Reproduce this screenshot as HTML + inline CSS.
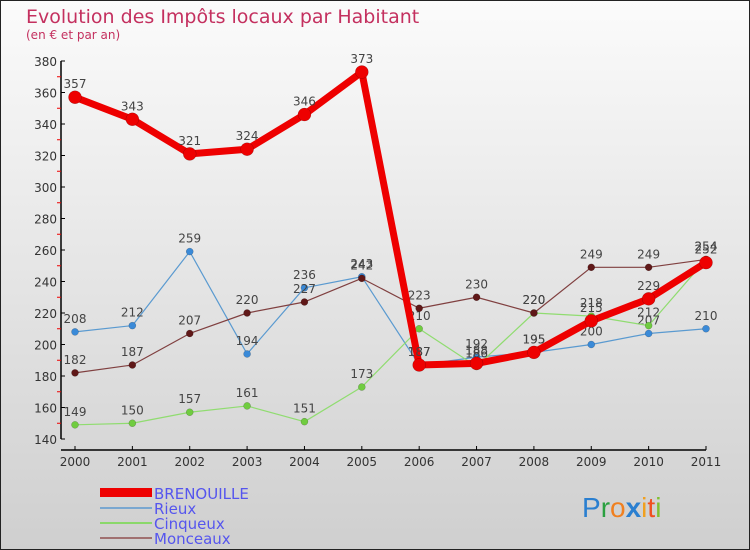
<!DOCTYPE html>
<html><head><meta charset="utf-8"><style>
body{margin:0}
#c{width:750px;height:550px;position:relative;box-sizing:border-box;border:1px solid #222;background:linear-gradient(#fbfbfb,#cfcfcf);font-family:"DejaVu Sans","Liberation Sans",sans-serif;overflow:hidden}
</style></head><body>
<div id="c">
<svg id="s" width="750" height="550" style="position:absolute;left:-1px;top:-1px">
<text x="26" y="23" font-size="19" fill="#c4305f">Evolution des Impôts locaux par Habitant</text>
<text x="26" y="39" font-size="12" fill="#c4305f">(en € et par an)</text>
<g id="ax"></g><g id="ser"></g>
<g font-size="15" fill="#5555ee">
<rect x="100" y="488" width="52" height="9" fill="#ee0000"/>
<text x="154" y="499">BRENOUILLE</text>
<line x1="100" y1="508" x2="152" y2="508" stroke="#7aa7d0" stroke-width="2"/>
<text x="154" y="514">Rieux</text>
<line x1="100" y1="523" x2="152" y2="523" stroke="#8ad86a" stroke-width="2"/>
<text x="154" y="529">Cinqueux</text>
<line x1="100" y1="538" x2="152" y2="538" stroke="#a07070" stroke-width="2"/>
<text x="154" y="544">Monceaux</text>
</g>
<g font-size="28" font-family="Liberation Sans, sans-serif">
<text x="582" y="517"><tspan fill="#2a7fd0">P</tspan><tspan fill="#2aa040">r</tspan><tspan fill="#f08020">o</tspan><tspan fill="#2a7fd0" font-weight="bold">x</tspan><tspan fill="#f0a020">i</tspan><tspan fill="#f05020">t</tspan><tspan fill="#80c030">i</tspan></text>
</g>
</svg>
</div>
<script>
const years=["2000","2001","2002","2003","2004","2005","2006","2007","2008","2009","2010","2011"];
const yTicks=[140,160,180,200,220,240,260,280,300,320,340,360,380];
const brenouille=[357,343,321,324,346,373,187,188,195,215,229,252];
const rieux=[208,212,259,194,236,243,187,192,195,200,207,210];
const cinqueux=[149,150,157,161,151,173,210,186,220,218,212,254];
const monceaux=[182,187,207,220,227,242,223,230,220,249,249,254];
const NS="http://www.w3.org/2000/svg";
const X=i=>75+i*(706-75)/11;
const Y=v=>439-(v-140)*(439-61)/240;
function mk(t,a,p){const e=document.createElementNS(NS,t);for(const k in a)e.setAttribute(k,a[k]);p.appendChild(e);return e;}
const ax=document.getElementById('ax');
let e=mk('line',{x1:61,y1:61,x2:61,y2:439,stroke:'#000','stroke-width':1.5},ax);


e=mk('line',{x1:61,y1:450,x2:706,y2:450,stroke:'#000','stroke-width':1.5},ax);


yTicks.forEach((v,i)=>{
 mk('line',{x1:61,y1:Y(v),x2:65,y2:Y(v),stroke:'#000'},ax);
 const t=mk('text',{x:57,y:Y(v)+5,'text-anchor':'end','font-size':12,fill:'#333'},ax);t.textContent=v;
 
 
 if(i<yTicks.length-1)mk('line',{x1:57,y1:Y(v+10),x2:61,y2:Y(v+10),stroke:'#e00'},ax);
});
years.forEach((y,i)=>{
 mk('line',{x1:X(i),y1:446,x2:X(i),y2:450,stroke:'#000'},ax);
 const t=mk('text',{x:X(i),y:466,'text-anchor':'middle','font-size':12,fill:'#333'},ax);t.textContent=y;
 
 
});
const ser=document.getElementById('ser');
function draw(d,name,col,dot,w,r){
 const g=mk('g',{},ser);
 
 
 const l=mk('polyline',{points:d.map((v,i)=>X(i)+','+Y(v)).join(' '),fill:'none',stroke:col,'stroke-width':w,'stroke-linejoin':'round'},g);
 
 
 d.forEach((v,i)=>{
  const c=mk('circle',{cx:X(i),cy:Y(v),r:r,fill:dot,stroke:'rgba(0,0,0,0.3)','stroke-width':0.5},g);
  
  
  const t=mk('text',{x:X(i),y:Y(v)-9,'text-anchor':'middle','font-size':12,fill:'#444'},g);t.textContent=v;
  
  
 });
}
draw(rieux,'rieux','#5a9ad0','#3a8ad8',1.2,3.5);
draw(cinqueux,'cinqueux','#90dc70','#70cc40',1.2,3.5);
draw(monceaux,'monceaux','#804040','#601818',1.2,3.5);
draw(brenouille,'brenouille','#ee0000','#ee0000',7,6.5);
</script>
</body></html>
